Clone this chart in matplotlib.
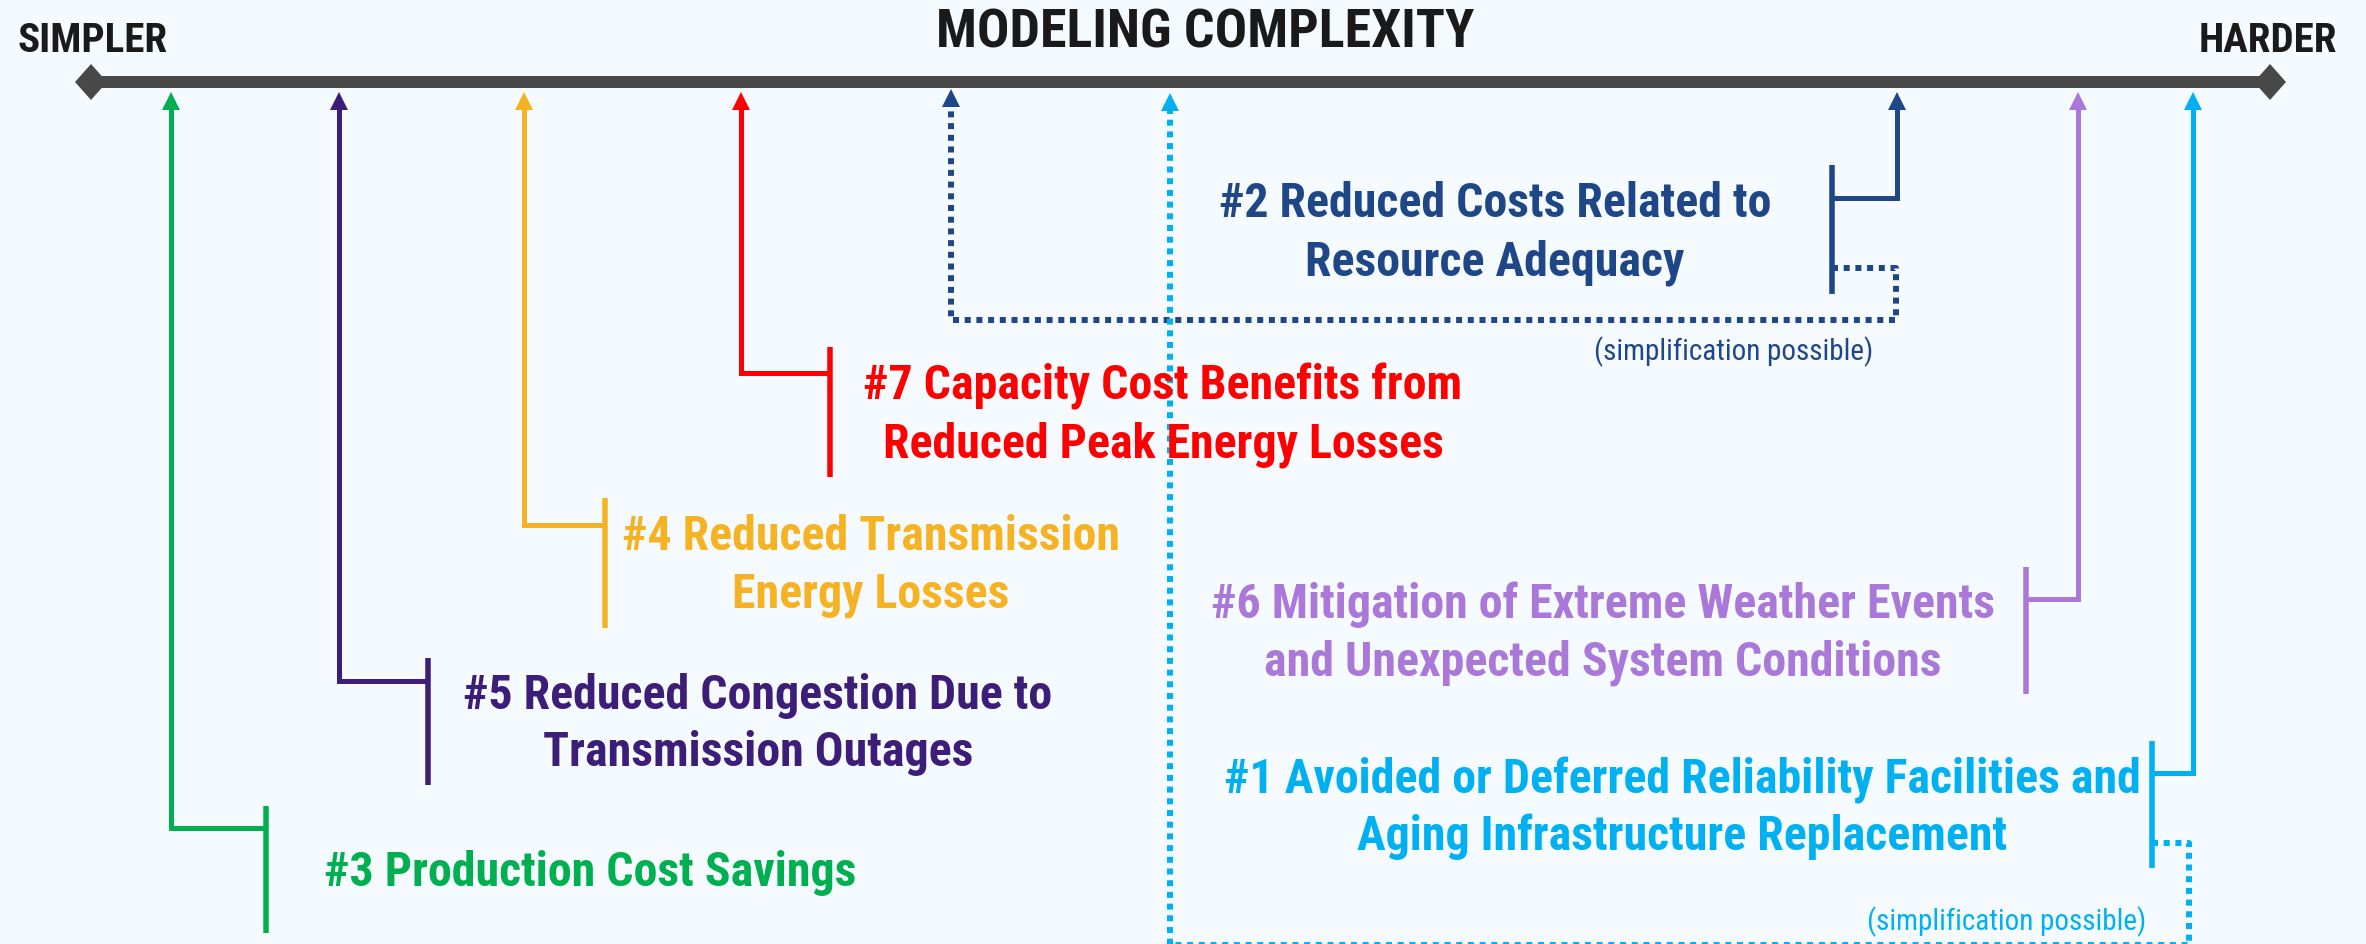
import matplotlib
matplotlib.use("Agg")
import matplotlib.pyplot as plt
from matplotlib.patches import Polygon
from matplotlib import font_manager as fm

# ---------------- data ----------------
title = "MODELING COMPLEXITY"
left_label = "SIMPLER"
right_label = "HARDER"
simpl_text = "(simplification possible)"

item_ids = ["#3", "#5", "#4", "#7", "#2", "#6", "#1"]
item_lines = [
    ["#3 Production Cost Savings"],
    ["#5 Reduced Congestion Due to", "Transmission Outages"],
    ["#4 Reduced Transmission", "Energy Losses"],
    ["#7 Capacity Cost Benefits from", "Reduced Peak Energy Losses"],
    ["#2 Reduced Costs Related to", "Resource Adequacy"],
    ["#6 Mitigation of Extreme Weather Events", "and Unexpected System Conditions"],
    ["#1 Avoided or Deferred Reliability Facilities and", "Aging Infrastructure Replacement"],
]
item_colors = ["#00B050", "#3C1E78", "#F5B324", "#FF0000", "#1F4788", "#AA78D8", "#00B0F0"]

# layout (pixel coordinates in a 2366 x 944 canvas, y downwards)
arrow_x = [171, 339, 524, 741, 1897, 2078, 2193]
turn_y = [828, 681, 525, 373, 198, 599, 773]
bracket_x = [266, 428, 605, 830, 1832, 2026, 2152]
bracket_top = [806, 658, 498, 347, 165, 567, 741]
bracket_bot = [933, 785, 628, 477, 294, 694, 868]
text_cx = [590, 758, 871, 1163, 1495, 1603, 1682]
text_base = [[886], [709, 766], [550, 607], [400, 458], [217, 275], [618, 675], [793, 850]]

# dotted "simplification" routes
dot2_x = [1832, 1896, 1896, 951, 951]
dot2_y = [268, 268, 320, 320, 104]
dot1_x = [2152, 2189, 2189, 1170, 1170]
dot1_y = [843, 843, 945, 945, 108]

# ---------------- fonts ----------------
def has_family(name):
    try:
        fm.findfont(fm.FontProperties(family=name, weight="bold"), fallback_to_default=False)
        return True
    except Exception:
        return False

cond = "Roboto Condensed" if has_family("Roboto Condensed") else "Roboto"
FAM = [cond, "Roboto", "DejaVu Sans"]

BG = "#F5FAFE"
AXC = "#484848"
TXT = "#1A1A1A"

W, H = 2366, 944
fig = plt.figure(figsize=(W / 100, H / 100), dpi=100, facecolor=BG)
ax = fig.add_axes([0, 0, 1, 1])
ax.set_xlim(0, W)
ax.set_ylim(H, 0)
ax.axis("off")
ax.set_facecolor(BG)

PX = 0.72  # points per pixel at dpi 100


def arrow_head(x, tip, color, w=9, h=18):
    ax.add_patch(Polygon([[x - w, tip + h], [x + w, tip + h], [x, tip]],
                         closed=True, color=color, lw=0, zorder=4))


# main axis
ax.plot([91, 2270], [82, 82], color=AXC, lw=12 * PX, solid_capstyle="butt", zorder=3)
for cx in (91, 2270):
    ax.add_patch(Polygon([[cx - 16, 82], [cx, 64], [cx + 16, 82], [cx, 100]],
                         closed=True, color=AXC, lw=0, zorder=3))

ax.text(1205, 47, title, ha="center", va="baseline", fontsize=38.8, fontweight="bold",
        family=FAM, color=TXT)
ax.text(93, 52, left_label, ha="center", va="baseline", fontsize=29.5, fontweight="bold",
        family=FAM, color=TXT)
ax.text(2268, 52, right_label, ha="center", va="baseline", fontsize=29.5, fontweight="bold",
        family=FAM, color=TXT)

SLW = 5 * PX
for i in range(len(item_ids)):
    c = item_colors[i]
    ax.plot([arrow_x[i], arrow_x[i], bracket_x[i]], [108, turn_y[i], turn_y[i]],
            color=c, lw=SLW, solid_joinstyle="miter", solid_capstyle="butt", zorder=3)
    arrow_head(arrow_x[i], 92, c)
    ax.plot([bracket_x[i], bracket_x[i]], [bracket_top[i], bracket_bot[i]],
            color=c, lw=5.5 * PX, solid_capstyle="butt", zorder=3)
    for line, yb in zip(item_lines[i], text_base[i]):
        ax.text(text_cx[i], yb, line, ha="center", va="baseline", fontsize=34.5,
                fontweight="bold", family=FAM, color=c)

# dotted routes
DLW = 6 * PX
dash = (0, (1.0, 0.95))
ax.plot(dot2_x, dot2_y, color=item_colors[4], lw=DLW, linestyle=dash,
        dash_capstyle="butt", zorder=2)
arrow_head(951, 89, item_colors[4])
ax.plot(dot1_x, dot1_y, color=item_colors[6], lw=DLW, linestyle=dash,
        dash_capstyle="butt", zorder=2)
arrow_head(1170, 93, item_colors[6])

ax.text(1734, 360, simpl_text, ha="center", va="baseline", fontsize=21,
        family=FAM, color=item_colors[4])
ax.text(2007, 930, simpl_text, ha="center", va="baseline", fontsize=21,
        family=FAM, color=item_colors[6])

fig.savefig("out.png", dpi=100, facecolor=BG)
